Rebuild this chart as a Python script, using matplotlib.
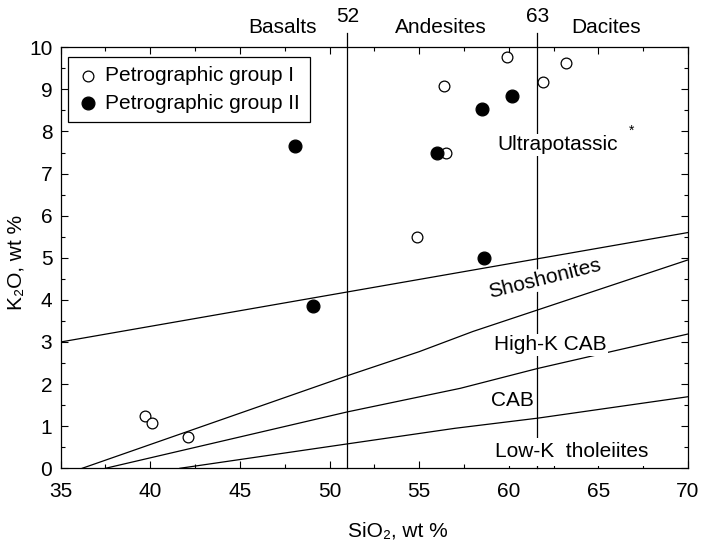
import matplotlib
matplotlib.use("Agg")
import matplotlib.pyplot as plt
from matplotlib.ticker import MultipleLocator

plt.rcParams['font.family'] = ['Liberation Sans', 'DejaVu Sans']

# SiO2 / K2O of samples
group1_sio2 = [39.7, 40.1, 42.1, 59.9, 63.2, 61.9, 56.4, 56.5, 54.9]
group1_k2o = [1.24, 1.07, 0.75, 9.78, 9.62, 9.18, 9.08, 7.50, 5.49]
group2_sio2 = [48.1, 49.1, 60.2, 58.5, 56.0, 58.6]
group2_k2o = [7.66, 3.85, 8.84, 8.53, 7.50, 5.00]

# field boundaries
ultra_x = [35, 70]
ultra_y = [3.0, 5.6]
shosh_x = [36.2, 51, 55, 58, 61.6, 70]
shosh_y = [0, 2.2, 2.77, 3.25, 3.76, 4.95]
highk_x = [37.5, 51, 57.3, 61.6, 70]
highk_y = [0, 1.34, 1.9, 2.37, 3.19]
cab_x = [41.65, 51, 57, 61.6, 70]
cab_y = [0, 0.58, 0.95, 1.19, 1.70]

divisions = [51, 61.6]
division_labels = ["52", "63"]

FS = 15

fig = plt.figure(figsize=(7.03, 5.41), dpi=100)
ax = fig.add_axes([0.0863, 0.1344, 0.8924, 0.7782])

lw = 0.9
for xs, ys in [(ultra_x, ultra_y), (shosh_x, shosh_y), (highk_x, highk_y), (cab_x, cab_y)]:
    ax.plot(xs, ys, color="black", linewidth=lw, zorder=2)

for xv, lab in zip(divisions, division_labels):
    ax.plot([xv, xv], [0, 10.35], color="black", linewidth=lw, clip_on=False, zorder=1)
    ax.text(xv, 10.72, lab, ha="center", va="center", fontsize=FS, clip_on=False)

ax.text(47.4, 10.46, "Basalts", ha="center", va="center", fontsize=FS)
ax.text(56.2, 10.46, "Andesites", ha="center", va="center", fontsize=FS)
ax.text(65.4, 10.46, "Dacites", ha="center", va="center", fontsize=FS)

box = dict(facecolor="white", edgecolor="none", pad=1.0)
ax.text(62.75, 7.68, "Ultrapotassic", ha="center", va="center", fontsize=FS, bbox=box, zorder=3)
ax.text(66.85, 8.02, "*", ha="center", va="center", fontsize=10, zorder=3)
ax.text(62.0, 4.5, "Shoshonites", ha="center", va="center", fontsize=FS,
        rotation=14, rotation_mode="anchor", bbox=box, zorder=3)
ax.text(62.3, 2.93, "High-K CAB", ha="center", va="center", fontsize=FS, bbox=box, zorder=3)
ax.text(60.2, 1.62, "CAB", ha="center", va="center", fontsize=FS, zorder=3)
ax.text(63.5, 0.39, "Low-K  tholeiites", ha="center", va="center", fontsize=FS,
        bbox=dict(facecolor="white", edgecolor="none", pad=3.5), zorder=3)

ax.scatter(group1_sio2, group1_k2o, s=60, facecolors="white", edgecolors="black",
           linewidths=0.9, zorder=4, label="Petrographic group I")
ax.scatter(group2_sio2, group2_k2o, s=85, facecolors="black", edgecolors="black",
           linewidths=0.9, zorder=4, label="Petrographic group II")

ax.set_xlim(35, 70)
ax.set_ylim(0, 10)
ax.xaxis.set_major_locator(MultipleLocator(5))
ax.xaxis.set_minor_locator(MultipleLocator(2.5))
ax.yaxis.set_major_locator(MultipleLocator(1))
ax.yaxis.set_minor_locator(MultipleLocator(0.5))
ax.tick_params(which="both", direction="in", top=True, right=True, width=0.8)
ax.tick_params(which="major", length=5, labelsize=FS)
ax.tick_params(axis="x", which="major", pad=10)
ax.tick_params(axis="y", which="major", pad=6)
ax.tick_params(which="minor", length=3)
for sp in ax.spines.values():
    sp.set_linewidth(0.9)

ax.set_xlabel("SiO₂, wt %", fontsize=FS, va="center")
ax.set_ylabel("K₂O, wt %", fontsize=FS, va="center")
ax.xaxis.set_label_coords(0.538, -0.15)
ax.yaxis.set_label_coords(-0.071, 0.49)

leg = ax.legend(loc="upper left", bbox_to_anchor=(0.0116, 0.977), fontsize=FS,
                frameon=True, fancybox=False, edgecolor="black", framealpha=1,
                handlelength=1.0, handletextpad=0.35, borderpad=0.45,
                labelspacing=0.4, borderaxespad=0)
leg.get_frame().set_linewidth(0.9)

fig.savefig("out.png", dpi=100)
